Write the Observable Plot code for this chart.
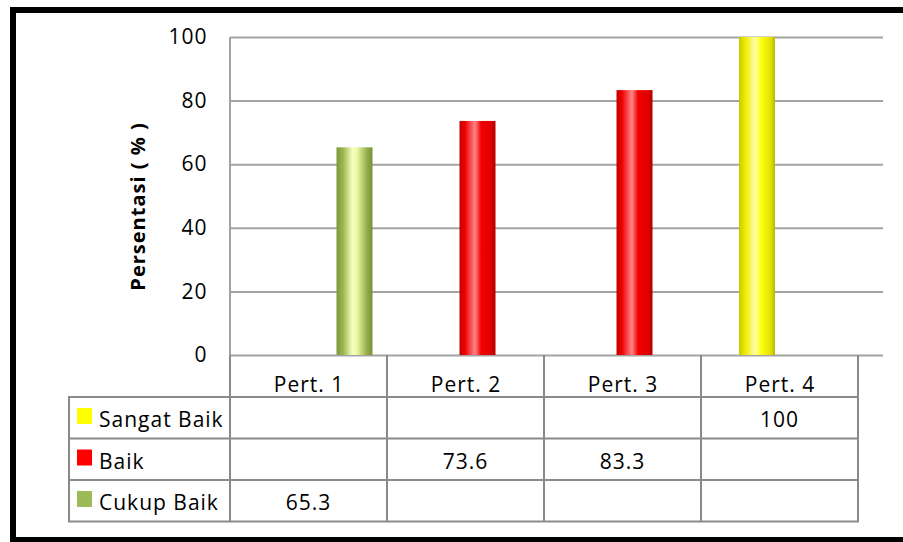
<!DOCTYPE html>
<html><head><meta charset="utf-8">
<script src="https://cdn.jsdelivr.net/npm/d3@7"></script>
<script src="https://cdn.jsdelivr.net/npm/@observablehq/plot@0.6"></script>
<style>
body{margin:0;background:#fff;}
#wrap{position:relative;width:903px;height:542px;overflow:hidden;background:#fff;}
#frame{position:absolute;left:10px;top:7px;width:1000px;height:524px;border:6px solid #000;border-right:none;pointer-events:none}
svg{position:absolute;left:0;top:0}
</style></head>
<body><div id="wrap"><div id="frame"></div></div>
<script>
// ---- data ----
const categories = ["Pert. 1", "Pert. 2", "Pert. 3", "Pert. 4"];
const series = ["Sangat Baik", "Baik", "Cukup Baik"];
const sangatBaik = [null, null, null, 100];
const baik = [null, 73.6, 83.3, null];
const cukupBaik = [65.3, null, null, null];
const yTicks = [0, 20, 40, 60, 80, 100];
const yLabel = "Persentasi ( % )";

// ---- styles ----
const FONT = '"Open Sans", sans-serif';
const swatch = {"Sangat Baik": "#ffff00", "Baik": "#ff0000", "Cukup Baik": "#9bbb59"};
const gradStops = {
  "Sangat Baik": [["0%","#c9c900"],["18%","#eeee00"],["45%","#ffffa8"],["62%","#ffff10"],["88%","#e0e000"],["100%","#b8b800"]],
  "Baik": [["0%","#c00000"],["15%","#ee0000"],["43%","#ff8585"],["60%","#f20000"],["88%","#e00000"],["100%","#b00000"]],
  "Cukup Baik": [["0%","#7d983a"],["18%","#9ab54f"],["45%","#faffc2"],["58%","#e8f7a0"],["85%","#92ad48"],["100%","#77913a"]]
};
const seriesShift = {"Sangat Baik": -22.5, "Baik": 12, "Cukup Baik": 46};
const gradId = s => "grad-" + s.replace(/\s+/g, "");

const valuesBySeries = {"Sangat Baik": sangatBaik, "Baik": baik, "Cukup Baik": cukupBaik};
const rows = series.flatMap(s => categories.map((c, i) => ({cat: c, series: s, value: valuesBySeries[s][i]})));
const bars = rows.filter(d => d.value != null);

const W = 903, H = 542;
const bandLeft = 230, bandRight = 858;
const barW = 36;
const inset = ((bandRight - bandLeft) / categories.length - barW) / 2;

const plot = Plot.plot({
  width: W, height: H,
  marginLeft: 230, marginRight: 20, marginTop: 37, marginBottom: 187,
  style: {fontFamily: FONT, fontSize: "21px", color: "#000", background: "transparent", overflow: "visible", letterSpacing: "1px"},
  x: {domain: categories, range: [bandLeft, bandRight], padding: 0, tickSize: 0, tickPadding: 22, label: null},
  y: {domain: [0, 100], ticks: yTicks, tickSize: 0, tickPadding: 23, label: null},
  marks: [
    Plot.ruleY(yTicks, {stroke: "#a3a3a3", strokeWidth: 2}),
    ...series.map(s => Plot.barY(bars.filter(d => d.series === s), {
      x: "cat", y: "value", fill: `url(#${gradId(s)})`,
      insetLeft: inset, insetRight: inset, dx: seriesShift[s]
    })),
    Plot.text([yLabel], {frameAnchor: "left", textAnchor: "middle", text: d => d, rotate: -90, dx: -92, dy: 10, fontWeight: "bold", fontSize: 20})
  ]
});

const svg = d3.select(plot);
// gradients
const defs = svg.insert("defs", ":first-child");
series.forEach(s => {
  const g = defs.append("linearGradient").attr("id", gradId(s)).attr("x1", 0).attr("x2", 1).attr("y1", 0).attr("y2", 0);
  gradStops[s].forEach(([o, c]) => g.append("stop").attr("offset", o).attr("stop-color", c));
});

// data table under the chart, aligned to Plot's x scale
const xs = plot.scale("x");
const xb = d3.scaleBand(xs.domain, xs.range).padding(0);
const y0 = 355, tTop = 397, rowH = 41.5, tLeft = 69;
const lineC = "#8a8a8a";
const T = svg.append("g").attr("stroke", lineC).attr("stroke-width", 2).attr("fill", "none");
// axis line
T.append("line").attr("x1", bandLeft).attr("x2", bandLeft).attr("y1", 37).attr("y2", tTop).attr("stroke", "#a3a3a3");
// header dividers
const edges = categories.map(c => xb(c)).concat([xb(categories[categories.length - 1]) + xb.bandwidth()]);
edges.forEach(x => T.append("line").attr("x1", x).attr("x2", x).attr("y1", y0).attr("y2", tTop));
// table box
const tBottom = tTop + rowH * series.length;
T.append("rect").attr("x", tLeft).attr("y", tTop).attr("width", edges[edges.length - 1] - tLeft).attr("height", tBottom - tTop);
series.slice(1).forEach((s, i) => T.append("line").attr("x1", tLeft).attr("x2", edges[edges.length - 1]).attr("y1", tTop + rowH * (i + 1)).attr("y2", tTop + rowH * (i + 1)));
edges.slice(0, -1).forEach(x => T.append("line").attr("x1", x).attr("x2", x).attr("y1", tTop).attr("y2", tBottom));

const TX = svg.append("g").attr("font-family", FONT).attr("font-size", 21).attr("fill", "#000").attr("text-anchor", "start").style("letter-spacing", "1px");
series.forEach((s, i) => {
  const top = tTop + rowH * i;
  TX.append("rect").attr("x", 77).attr("y", top + 11).attr("width", 15).attr("height", 16).attr("fill", swatch[s]);
  TX.append("text").attr("x", 99).attr("y", top + rowH / 2 + 2).attr("dy", "0.35em").attr("text-anchor", "start").text(s);
  categories.forEach((c, j) => {
    const v = valuesBySeries[s][j];
    if (v != null) TX.append("text").attr("x", xb(c) + xb.bandwidth() / 2).attr("y", top + rowH / 2 + 2).attr("dy", "0.35em").attr("text-anchor", "middle").text(v);
  });
});

document.getElementById("wrap").appendChild(plot);
</script>
</body></html>
